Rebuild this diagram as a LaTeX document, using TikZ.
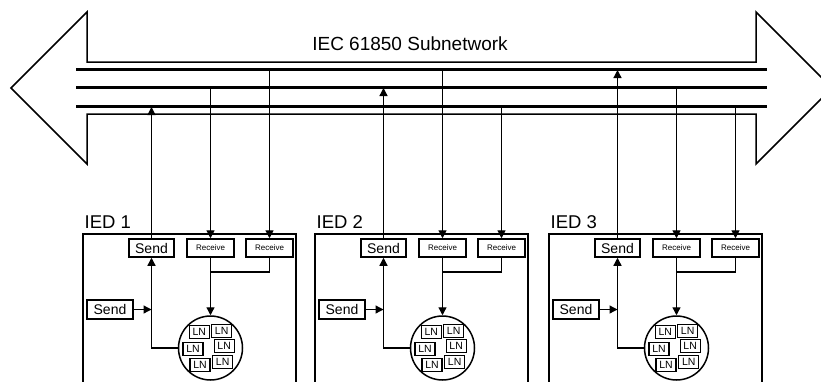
\documentclass[tikz,border=0pt]{standalone}
\usepackage{fontspec}
\setmainfont{Liberation Sans}
\usetikzlibrary{arrows.meta}
\begin{document}
\begin{tikzpicture}[x=1pt,y=-1pt,line width=1.3pt,
  arr/.style={-{Triangle[length=8pt,width=8pt]}},
  bus/.style={line width=3pt},
  outline/.style={line width=1.5pt},
  sbox/.style={draw,line width=1.5pt,minimum width=45pt,minimum height=18pt,inner sep=0pt,font=\fontsize{14}{15}\selectfont},
  rbox/.style={draw,line width=1.5pt,minimum width=47pt,minimum height=18pt,inner sep=0pt,font=\fontsize{8}{9}\selectfont},
  lnbox/.style={draw,line width=1.3pt,minimum width=20pt,minimum height=13pt,inner sep=0pt,font=\fontsize{10.5}{10}\selectfont},
  lbl/.style={anchor=base west,inner sep=0pt,font=\fontsize{18.5}{18}\selectfont}]
\useasboundingbox (0,0) rectangle (821,381);
\clip (0,0) rectangle (821,381);
% big double arrow
\draw[outline] (87,62) -- (87,12) -- (11,88) -- (87,164) -- (87,114) -- (756,114)
  -- (756,164) -- (832,88) -- (756,12) -- (756,62) -- cycle;
\node[font=\fontsize{19}{20}\selectfont] (title) at (410,44) {IEC 61850 Subnetwork};
% bus lines
\draw[bus] (76,69) -- (767,69);
\draw[bus] (76,87) -- (767,87);
\draw[bus] (76,106) -- (767,106);
\foreach \o/\i/\sb/\ra/\rb in {0/1/107/88/70, 232/2/88/70/107, 466/3/70/88/107}{
\begin{scope}[xshift=\o]
  \draw[outline] (83,400) -- (83,234) -- (296,234) -- (296,400);
  \node[lbl] (ied\i) at (84,228) {IED \i};
  \node[sbox] (send\i) at (151.5,248) {Send};
  \node[rbox] (reca\i) at (210.5,248) {Receive};
  \node[rbox] (recb\i) at (269.5,248) {Receive};
  \node[sbox,minimum width=46pt,minimum height=19pt] (sin\i) at (110,309.5) {Send};
  \node[circle,draw,outline,minimum size=64pt,inner sep=0pt] (ln\i) at (210.5,348) {};
  \node[lnbox] (lna\i) at (199.3,332) {LN};
  \node[lnbox] (lnb\i) at (221.7,331) {LN};
  \node[lnbox] (lnc\i) at (193,349.3) {LN};
  \node[lnbox] (lnd\i) at (224.2,346) {LN};
  \node[lnbox] (lne\i) at (200,364.7) {LN};
  \node[lnbox] (lnf\i) at (222.7,362.3) {LN};
  \coordinate (bs\i) at (151.5,\sb);
  \coordinate (ba\i) at (210.5,\ra);
  \coordinate (bb\i) at (269.5,\rb);
  \coordinate (mg\i) at (210.5,272);
  \coordinate (jn\i) at (151.5,309.5);
  \draw[arr] (send\i.north) -- (bs\i);
  \draw[arr] (ba\i) -- (reca\i.north);
  \draw[arr] (bb\i) -- (recb\i.north);
  \draw (recb\i.south) |- (mg\i);
  \draw[arr] (reca\i.south) -- (ln\i.north);
  \draw[arr] (sin\i.east) -- (jn\i);
  \draw[arr] (ln\i.west) -| (send\i.south);
\end{scope}
}
\end{tikzpicture}
\end{document}
